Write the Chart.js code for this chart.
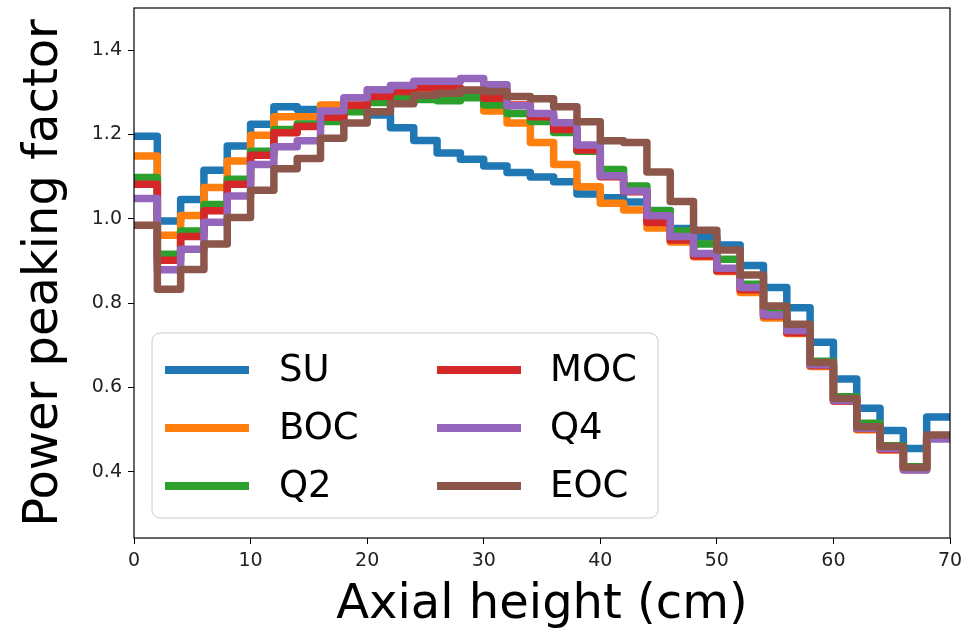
<!DOCTYPE html>
<html>
<head>
<meta charset="utf-8">
<script src="https://cdn.jsdelivr.net/npm/chart.js@4.4.0/dist/chart.umd.min.js"></script>
<style>
  html, body { margin: 0; padding: 0; background: #fff; }
  #c { display: block; }
</style>
</head>
<body>
<canvas id="c" width="976" height="634"></canvas>
<script>
// bin start heights (cm), each bin is 2 cm wide, last edge at 70
const heights = [0, 2, 4, 6, 8, 10, 12, 14, 16, 18, 20, 22, 24, 26, 28, 30, 32, 34,
  36, 38, 40, 42, 44, 46, 48, 50, 52, 54, 56, 58, 60, 62, 64, 66, 68];
const lastEdge = 70;

// power peaking factor per bin
const su = [1.196, 0.995, 1.046, 1.115, 1.173, 1.224, 1.266, 1.259, 1.255, 1.255, 1.246, 1.216,
  1.186, 1.156, 1.141, 1.125, 1.110, 1.099, 1.088, 1.059, 1.050, 1.040, 1.020, 0.977, 0.957,
  0.938, 0.889, 0.837, 0.789, 0.707, 0.620, 0.551, 0.498, 0.455, 0.530];
const boc = [1.149, 0.961, 1.008, 1.074, 1.137, 1.198, 1.242, 1.242, 1.270, 1.280, 1.290, 1.295,
  1.299, 1.295, 1.290, 1.256, 1.227, 1.181, 1.129, 1.076, 1.037, 1.021, 0.978, 0.945, 0.910,
  0.875, 0.825, 0.765, 0.728, 0.650, 0.568, 0.500, 0.452, 0.405, 0.480];
const q2 = [1.098, 0.916, 0.971, 1.034, 1.094, 1.160, 1.212, 1.225, 1.231, 1.254, 1.276, 1.287,
  1.283, 1.280, 1.287, 1.270, 1.250, 1.231, 1.205, 1.160, 1.117, 1.078, 1.019, 0.971, 0.940,
  0.904, 0.845, 0.780, 0.740, 0.662, 0.578, 0.515, 0.462, 0.412, 0.485];
const moc = [1.082, 0.902, 0.958, 1.019, 1.082, 1.151, 1.204, 1.219, 1.241, 1.269, 1.290, 1.302,
  1.311, 1.311, 1.305, 1.286, 1.270, 1.242, 1.212, 1.163, 1.100, 1.064, 0.991, 0.950, 0.912,
  0.877, 0.832, 0.770, 0.730, 0.652, 0.568, 0.502, 0.453, 0.407, 0.480];
const q4 = [1.048, 0.879, 0.928, 0.992, 1.054, 1.129, 1.171, 1.185, 1.256, 1.287, 1.306, 1.316,
  1.326, 1.326, 1.333, 1.318, 1.268, 1.250, 1.228, 1.175, 1.102, 1.066, 1.007, 0.958, 0.918,
  0.883, 0.837, 0.772, 0.735, 0.654, 0.569, 0.503, 0.455, 0.404, 0.478];
const eoc = [0.985, 0.833, 0.880, 0.940, 1.003, 1.068, 1.119, 1.143, 1.191, 1.227, 1.254, 1.273,
  1.293, 1.298, 1.305, 1.302, 1.290, 1.285, 1.266, 1.230, 1.185, 1.181, 1.111, 1.041, 0.973,
  0.926, 0.867, 0.793, 0.750, 0.659, 0.574, 0.507, 0.460, 0.410, 0.487];

const seriesNames = ['SU', 'BOC', 'Q2', 'MOC', 'Q4', 'EOC'];
const seriesValues = [su, boc, q2, moc, q4, eoc];
const colors = ['#1f77b4', '#ff7f0e', '#2ca02c', '#d62728', '#9467bd', '#8c564b'];

const xTicks = [0, 10, 20, 30, 40, 50, 60, 70];
const yTicks = [0.4, 0.6, 0.8, 1.0, 1.2, 1.4];

const FONT = 'DejaVu Sans';

// make step points, repeat last value at the top edge
function toSteps(vals) {
  const pts = heights.map((h, i) => ({ x: h, y: vals[i] }));
  pts.push({ x: lastEdge, y: vals[vals.length - 1] });
  return pts;
}

// frame round the plot + legend box
const framePlugin = {
  id: 'frame',
  afterDatasetsDraw(chart) {
    const { ctx, chartArea: a } = chart;
    ctx.save();
    ctx.strokeStyle = '#000';
    ctx.lineWidth = 1.2;
    ctx.strokeRect(a.left, a.top, a.right - a.left, a.bottom - a.top);
    ctx.restore();
  },
  afterDraw(chart) {
    const ctx = chart.ctx;
    const box = { x: 152, y: 333, w: 506, h: 185 };
    ctx.save();
    ctx.beginPath();
    ctx.roundRect(box.x, box.y, box.w, box.h, 8);
    ctx.fillStyle = 'rgba(255,255,255,0.8)';
    ctx.fill();
    ctx.strokeStyle = '#cccccc';
    ctx.lineWidth = 1;
    ctx.stroke();
    const colX = [165, 437];
    const txtX = [279, 550];
    const rowY = [370, 428, 486];
    ctx.font = '37px "' + FONT + '"';
    ctx.textBaseline = 'middle';
    chart.data.datasets.forEach((ds, i) => {
      const col = Math.floor(i / 3), row = i % 3;
      ctx.strokeStyle = ds.borderColor;
      ctx.lineWidth = 8;
      ctx.beginPath();
      ctx.moveTo(colX[col], rowY[row]);
      ctx.lineTo(colX[col] + 84, rowY[row]);
      ctx.stroke();
      ctx.fillStyle = '#000';
      ctx.fillText(ds.label, txtX[col], rowY[row] + 1);
    });
    ctx.restore();
  }
};

new Chart(document.getElementById('c'), {
  type: 'line',
  data: {
    datasets: seriesNames.map((name, i) => ({
      label: name,
      data: toSteps(seriesValues[i]),
      borderColor: colors[i],
      backgroundColor: colors[i],
      borderWidth: 7.5,
      stepped: true,
      pointRadius: 0,
      borderJoinStyle: 'round',
      fill: false,
      clip: 0,
      order: seriesNames.length - i
    }))
  },
  options: {
    responsive: false,
    animation: false,
    devicePixelRatio: 1,
    layout: { padding: { top: 8, right: 26, left: 0, bottom: 0 } },
    plugins: { legend: { display: false }, tooltip: { enabled: false } },
    scales: {
      x: {
        type: 'linear',
        min: 0,
        max: 70,
        afterBuildTicks: (s) => { s.ticks = xTicks.map(v => ({ value: v })); },
        afterFit: (s) => { s.height = 96; s.paddingLeft = 0; s.paddingRight = 0; },
        grid: { display: true, drawOnChartArea: false, drawTicks: true, tickLength: 6, color: '#000' },
        border: { display: false },
        ticks: { color: '#222', font: { family: FONT, size: 19 }, padding: 6, maxRotation: 0 },
        title: { display: true, text: 'Axial height (cm)', color: '#000', font: { family: FONT, size: 48 }, padding: 0 }
      },
      y: {
        type: 'linear',
        min: 0.243,
        max: 1.5,
        afterBuildTicks: (s) => { s.ticks = yTicks.map(v => ({ value: v })); },
        afterFit: (s) => { s.width = 134; s.paddingTop = 0; s.paddingBottom = 0; },
        grid: { display: true, drawOnChartArea: false, drawTicks: true, tickLength: 6, color: '#000' },
        border: { display: false },
        ticks: { color: '#222', font: { family: FONT, size: 19 }, padding: 6, callback: (v) => v.toFixed(1) },
        title: { display: true, text: 'Power peaking factor', color: '#000', font: { family: FONT, size: 48 }, padding: { top: 16, bottom: 0 } }
      }
    }
  },
  plugins: [framePlugin]
});
</script>
</body>
</html>
